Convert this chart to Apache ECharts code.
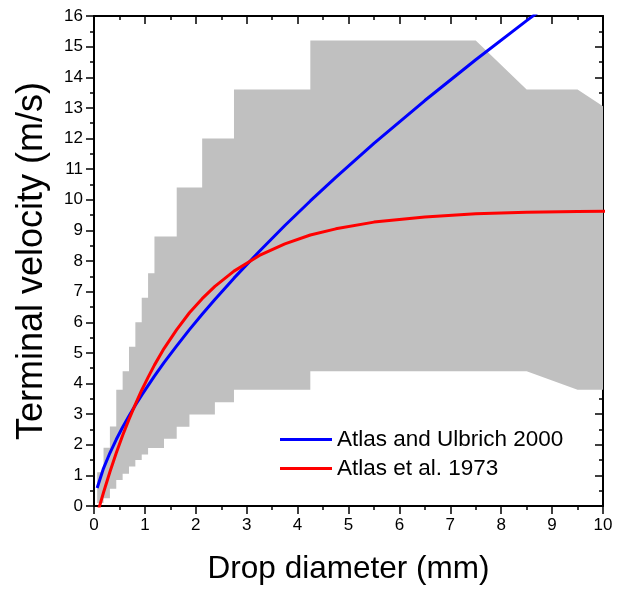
<!DOCTYPE html>
<html>
<head>
<meta charset="utf-8">
<script src="https://cdn.jsdelivr.net/npm/echarts@6/dist/echarts.min.js"></script>
<style>
  html, body { margin: 0; padding: 0; background: #fff; }
  #chart { width: 620px; height: 590px; }
</style>
</head>
<body>
<div id="chart"></div>
<script>
// drop diameter class centres (mm)
const diameters = [0.062, 0.187, 0.312, 0.437, 0.562, 0.687, 0.812, 0.937, 1.062, 1.187,
  1.375, 1.625, 1.875, 2.125, 2.375, 2.75, 3.25, 3.75, 4.25, 4.75, 5.5, 6.5, 7.5, 8.5, 9.5, 11];
// Atlas and Ulbrich 2000 (m/s)
const vAtlasUlbrich = [0.59, 1.23, 1.73, 2.17, 2.57, 2.94, 3.29, 3.62, 3.93, 4.24,
  4.68, 5.23, 5.76, 6.26, 6.74, 7.44, 8.32, 9.16, 9.96, 10.73, 11.84, 13.24, 14.57, 15.85, 17.07, 18.8];
// Atlas et al. 1973 (m/s)
const vAtlas1973 = [-0.27, 0.44, 1.11, 1.73, 2.30, 2.83, 3.32, 3.78, 4.20, 4.60,
  5.14, 5.76, 6.31, 6.77, 7.17, 7.67, 8.18, 8.56, 8.85, 9.05, 9.27, 9.44, 9.54, 9.59, 9.62, 9.64];

// grey band: upper limit per class (steps), then sloping tail
const upperEdges = [0.0625, 0.1875, 0.3125, 0.4375, 0.5625, 0.6875, 0.8125, 0.9375, 1.0625, 1.1875,
  1.625, 2.125, 2.75, 4.25, 7.5];
const upperSteps = [1.1, 1.9, 2.6, 3.8, 4.4, 5.2, 6.0, 6.8, 7.6, 8.8, 10.4, 12.0, 13.6, 15.2];
const upperTailD = [8.5, 9.5, 10];
const upperTailV = [13.6, 13.6, 13.05];
// grey band: lower limit per class (steps), then sloping tail
const lowerEdges = [0.0625, 0.1875, 0.3125, 0.4375, 0.5625, 0.6875, 0.8125, 0.9375, 1.0625, 1.375,
  1.625, 1.875, 2.375, 2.75, 4.25, 8.5];
const lowerSteps = [0.1, 0.25, 0.56, 0.85, 1.05, 1.29, 1.5, 1.68, 1.89, 2.2, 2.59, 2.99, 3.39, 3.8, 4.4];
const lowerTailD = [9.5, 10];
const lowerTailV = [3.8, 3.8];

const xTicks = { min: 0, max: 10, interval: 1 };
const yTicks = { min: 0, max: 16, interval: 1 };

function stepOutline(edges, steps, tailD, tailV) {
  const pts = [];
  steps.forEach((v, i) => { pts.push([edges[i], v], [edges[i + 1], v]) });
  tailD.forEach((d, i) => pts.push([d, tailV[i]]));
  return pts;
}

const bandPts = stepOutline(upperEdges, upperSteps, upperTailD, upperTailV)
  .concat(stepOutline(lowerEdges, lowerSteps, lowerTailD, lowerTailV).reverse());

const font = '"Liberation Sans", Arial, sans-serif';
const tickStyle = { color: '#000', width: 1.5 };

function axisBase(extra) {
  return Object.assign({
    type: 'value',
    axisLine: { show: true, onZero: false, lineStyle: { color: '#000', width: 2 } },
    axisTick: { show: true, inside: false, length: 8, lineStyle: tickStyle },
    minorTick: { show: true, splitNumber: 2, length: 4, lineStyle: tickStyle },
    splitLine: { show: false },
    axisLabel: { color: '#000', fontSize: 17, fontFamily: font, margin: 11 },
  }, extra);
}

// mirror axes on top/right: ticks inside, no labels
function mirrorAxis(ticks, position) {
  return axisBase(Object.assign({}, ticks, {
    position,
    axisTick: { show: true, inside: true, length: 8, lineStyle: tickStyle },
    minorTick: { show: true, splitNumber: 2, length: 4, lineStyle: tickStyle },
    axisLabel: { show: false },
  }));
}

const chart = echarts.init(document.getElementById('chart'));

chart.setOption({
  animation: false,
  grid: { left: 94, right: 17, top: 16, bottom: 82 },
  legend: {
    data: ['Atlas and Ulbrich 2000', 'Atlas et al. 1973'],
    orient: 'vertical',
    left: 280, top: 428, padding: 0,
    icon: 'rect',
    itemWidth: 52, itemHeight: 3, itemGap: 6,
    textStyle: { color: '#000', fontSize: 22.5, lineHeight: 22, fontFamily: font },
  },
  xAxis: [
    axisBase(Object.assign({}, xTicks, {
      position: 'bottom',
      name: 'Drop diameter (mm)', nameLocation: 'middle', nameGap: 47,
      nameTextStyle: { color: '#000', fontSize: 31.5, fontFamily: font },
    })),
    mirrorAxis(xTicks, 'top'),
  ],
  yAxis: [
    axisBase(Object.assign({}, yTicks, {
      position: 'left',
      name: 'Terminal velocity (m/s)', nameLocation: 'middle', nameGap: 44,
      nameTextStyle: { color: '#000', fontSize: 36, fontFamily: font },
    })),
    mirrorAxis(yTicks, 'right'),
  ],
  series: [
    {
      name: 'range',
      type: 'custom',
      silent: true,
      data: [[0, 0]],
      renderItem: (params, api) => ({
        type: 'polygon',
        shape: { points: bandPts.map(p => api.coord(p)) },
        style: { fill: '#c0c0c0' },
      }),
      z: 1,
    },
    {
      name: 'Atlas and Ulbrich 2000',
      type: 'line',
      data: diameters.map((d, i) => [d, vAtlasUlbrich[i]]),
      showSymbol: false, symbol: 'none',
      lineStyle: { color: '#0000ff', width: 3 },
      itemStyle: { color: '#0000ff' },
      clip: true, z: 3,
    },
    {
      name: 'Atlas et al. 1973',
      type: 'line',
      data: diameters.map((d, i) => [d, vAtlas1973[i]]),
      showSymbol: false, symbol: 'none',
      lineStyle: { color: '#ff0000', width: 3 },
      itemStyle: { color: '#ff0000' },
      clip: true, z: 4,
    },
  ],
});
</script>
</body>
</html>
